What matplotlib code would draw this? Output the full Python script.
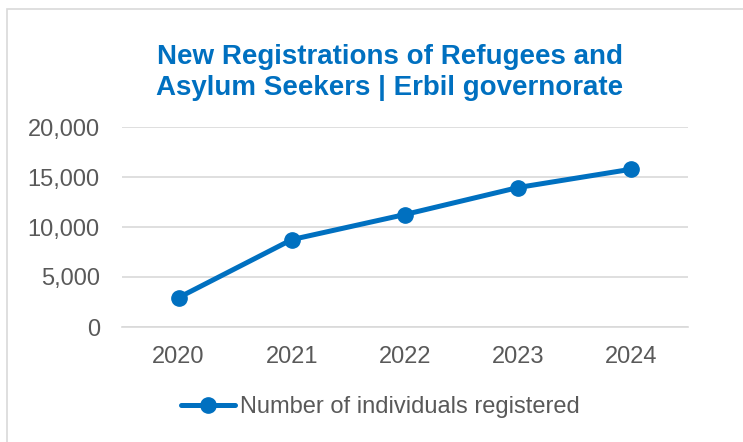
import matplotlib.pyplot as plt
from matplotlib.patches import Rectangle
from matplotlib.ticker import FuncFormatter

# Values
years = ["2020", "2021", "2022", "2023", "2024"]
registered = [2940, 8740, 11250, 13950, 15780]
y_ticks = [0, 5000, 10000, 15000, 20000]
title_lines = ["New Registrations of Refugees and", "Asylum Seekers | Erbil governorate"]

BLUE = "#0070C0"
GREY_TEXT = "#595959"
GRID = "#D9D9D9"

plt.rcParams["font.family"] = ["Liberation Sans", "DejaVu Sans"]

fig = plt.figure(figsize=(7.43, 4.42), dpi=100)

# chart area border
fig.patches.append(Rectangle((7 / 743, -0.05), 1.0, 1 - 9 / 442 + 0.05,
                             transform=fig.transFigure, fill=False,
                             edgecolor="#D9D9D9", linewidth=1.2))

ax = fig.add_axes([122 / 743, 1 - 327 / 442, (688 - 122) / 743, 200 / 442])
x = range(len(years))
ax.plot(x, registered, color=BLUE, linewidth=3.6, marker="o", markersize=11,
        label="Number of individuals registered", solid_capstyle="round")

ax.set_xlim(-0.5, len(years) - 0.5)
ax.set_ylim(0, 20000)
ax.set_yticks(y_ticks)
ax.yaxis.set_major_formatter(FuncFormatter(lambda v, _: f"{int(v):,}"))
ax.set_xticks(list(x))
ax.set_xticklabels(years)

ax.grid(axis="y", color=GRID, linewidth=1.2)
ax.set_axisbelow(True)
for side in ("top", "right", "left"):
    ax.spines[side].set_visible(False)
ax.spines["bottom"].set_color(GRID)
ax.spines["bottom"].set_linewidth(1.2)
ax.tick_params(length=0, labelsize=17, labelcolor=GREY_TEXT)
ax.tick_params(axis="y", pad=16)
ax.tick_params(axis="x", pad=14)

# title, two lines placed at the reference baselines
for line, base_px in zip(title_lines, (64, 95)):
    fig.text(390 / 743, 1 - base_px / 442, line, ha="center", va="baseline",
             fontsize=20, fontweight="bold", color=BLUE)

leg = fig.legend(loc="center", bbox_to_anchor=(380 / 743, 1 - 407 / 442), frameon=False,
                 fontsize=17, handlelength=2.3, handletextpad=0.2)
for t in leg.get_texts():
    t.set_color(GREY_TEXT)

fig.savefig("out.png", dpi=100)
